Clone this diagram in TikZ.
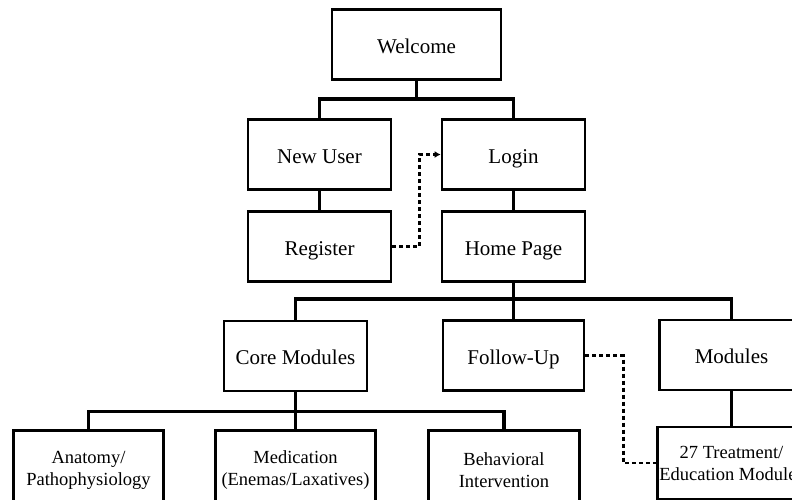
\documentclass[tikz,border=0pt]{standalone}
\usepackage{fontspec}
\setmainfont{Liberation Serif}
\usepackage{tikz}
\usetikzlibrary{positioning,arrows.meta,calc}
\tikzset{
  box/.style={rectangle, draw=black, fill=white, line width=2.8pt,
              align=center, inner sep=2pt, font=\fontsize{21}{23}\selectfont,
              text height=19pt, text depth=2pt,
              minimum width=#1, minimum height=70pt},
  box/.default=143pt,
  sbox/.style={box=#1, font=\fontsize{18.5}{22}\selectfont,
               text height=, text depth=, minimum height=80pt},
  tree/.style={line width=3.2pt, line join=miter, draw=black},
  dsh/.style={line width=2.4pt, dash pattern=on 4pt off 3pt, draw=black},
}

\begin{document}
\begin{tikzpicture}[x=1pt,y=-1pt]
  \useasboundingbox (0,0) rectangle (792,499);
  \clip (0,0) rectangle (792,499);

  % top part
  \node[box=169pt] (welcome) at (416.5,44.5) {Welcome};
  \node[box] (newuser)  at (319.5,154.5) {New User};
  \node[box] (login)    at (513.5,154.5) {Login};
  \node[box] (register) at (319.5,246.5) {Register};
  \node[box] (home)     at (513.5,246.5) {Home Page};

  % middle row
  \node[box] (core)     at (295.5,356) {Core Modules};
  \node[box=141pt] (followup) at (513.5,355.5) {Follow-Up};
  \node[box=144pt] (modules)  at (731.5,355) {Modules};

  % bottom row
  \node[sbox=150pt] (anatomy)  at (88.5,470.5) {Anatomy/\\Pathophysiology};
  \node[sbox=160pt] (medic)    at (295.5,470.5) {Medication\\(Enemas/Laxatives)};
  \node[sbox=151pt] (behav)    at (504,470.5) {Behavioral\\Intervention};
  \node[sbox=148pt, minimum height=72pt] (treat) at (731.5,463) {27 Treatment/\\Education Modules};

  % tree lines
  \draw[tree] (welcome.south) -- ++(0,18) coordinate (wbar);
  \draw[tree] (newuser.north) |- (wbar) -| (login.north);
  \draw[tree] (newuser.south) -- (register.north);
  \draw[tree] (login.south) -- (home.north);
  \draw[tree] (home.south) -- ++(0,16) coordinate (hbar);
  \draw[tree] (core.north) |- (hbar) -| (modules.north);
  \draw[tree] (hbar) -- (followup.north);
  \draw[tree] (core.south) -- ++(0,19) coordinate (cbar);
  \draw[tree] (anatomy.north) |- (cbar) -| (behav.north);
  \draw[tree] (cbar) -- (medic.north);
  \draw[tree] (modules.south) -- (treat.north);

  % dashed links
  \draw[dsh,-{Latex[length=6pt,width=7pt]}] (register.east) -- ++(27,0) |- (login.west);
  \draw[dsh] (followup.east) -- ++(38,0) |- (treat.west);
\end{tikzpicture}
\end{document}
